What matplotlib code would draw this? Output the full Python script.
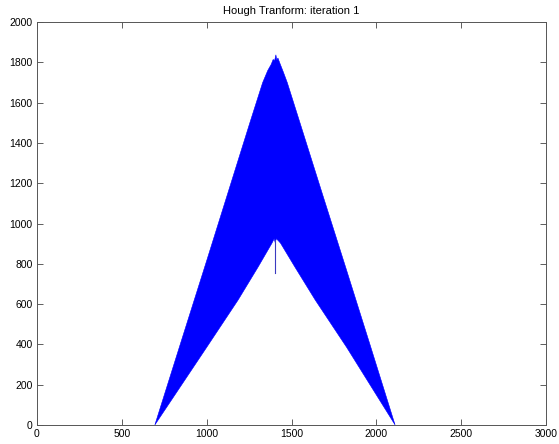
import matplotlib
matplotlib.use('Agg')
import matplotlib.pyplot as plt

# outer (upper) edge of the filled band, left to right
outer_x = [695, 850, 1000, 1143, 1260, 1330, 1360, 1380, 1392, 1400, 1408,
           1413, 1420, 1432, 1452, 1475, 1550, 1680, 1820, 1960, 2110]
outer_y = [0, 415, 815, 1200, 1515, 1700, 1760, 1790, 1815, 1808, 1838,
           1812, 1822, 1795, 1752, 1700, 1500, 1152, 780, 405, 0]

# inner (lower) edge, left to right
inner_x = [695, 1000, 1185, 1303, 1385, 1398, 1404, 1410, 1422, 1435, 1520,
           1640, 1825, 2110]
inner_y = [0, 385, 620, 784, 903, 925, 905, 925, 915, 903, 784, 620, 385, 0]

# thin spike below the inner peak
spike_x = [1405, 1405]
spike_y = [754, 920]

xticks = [0, 500, 1000, 1500, 2000, 2500, 3000]
yticks = [0, 200, 400, 600, 800, 1000, 1200, 1400, 1600, 1800, 2000]

plt.rcParams['font.family'] = ['Liberation Sans', 'DejaVu Sans']

fig = plt.figure(figsize=(5.59, 4.44), dpi=100)
ax = fig.add_axes([0.066, 0.043, 0.911, 0.907])

poly_x = outer_x + inner_x[::-1]
poly_y = outer_y + inner_y[::-1]
ax.fill(poly_x, poly_y, color='#0000ff', linewidth=0.4, edgecolor='#0000ff')
ax.plot(spike_x, spike_y, color='#3a3ac0', linewidth=0.8)

ax.set_xlim(0, 3000)
ax.set_ylim(0, 2000)
ax.set_xticks(xticks)
ax.set_yticks(yticks)
ax.tick_params(direction='in', top=True, right=True, labelsize=7.5,
               length=4, width=0.6, color='#444444', pad=3)
for s in ax.spines.values():
    s.set_linewidth(0.7)
    s.set_color('#555555')
ax.set_title('Hough Tranform: iteration 1', fontsize=8, pad=6)

fig.savefig('out.png', dpi=100)
